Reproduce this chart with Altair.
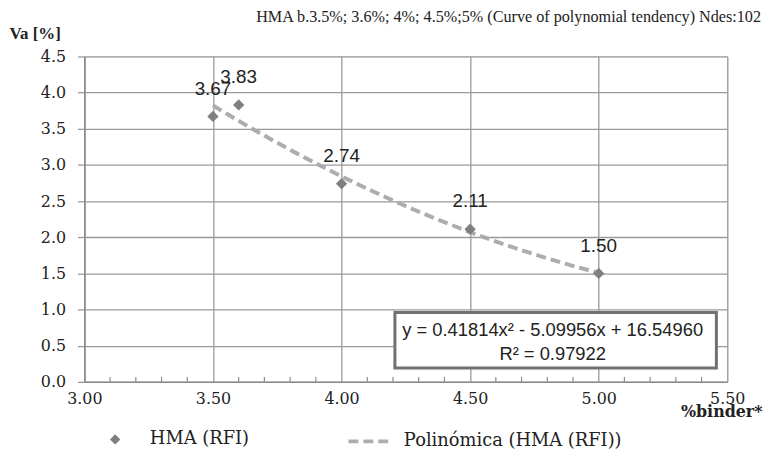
import altair as alt
import pandas as pd

binder = [3.5, 3.6, 4.0, 4.5, 5.0]
va = [3.67, 3.83, 2.74, 2.11, 1.50]
labels = ["3.67", "3.83", "2.74", "2.11", "1.50"]
x_ticks = [3.0, 3.5, 4.0, 4.5, 5.0, 5.5]
y_ticks = [0.0, 0.5, 1.0, 1.5, 2.0, 2.5, 3.0, 3.5, 4.0, 4.5]
minor_ticks = [3.1, 3.2, 3.3, 3.4, 3.6, 3.7, 3.8, 3.9, 4.1, 4.2, 4.3, 4.4,
               4.6, 4.7, 4.8, 4.9, 5.1, 5.2, 5.3, 5.4]
series_pts = "HMA (RFI)"
series_fit = "Polinómica (HMA (RFI))"
title_text = "HMA b.3.5%; 3.6%; 4%; 4.5%;5% (Curve of polynomial tendency) Ndes:102"
eq_line1 = "y = 0.41814x² - 5.09956x + 16.54960"
eq_line2 = "R² = 0.97922"

df = pd.DataFrame({"x": binder, "y": va, "label": labels,
                   "s1": series_pts, "s2": series_fit})
df_minor = pd.DataFrame({"x": minor_ticks})
one = pd.DataFrame({"a": [0]})

W, H = 648, 328
SERIF = "Liberation Serif"
DSERIF = "DejaVu Serif"
SANS = "Liberation Sans"

xs = alt.Scale(domain=[3.0, 5.5], nice=False, zero=False)
ys = alt.Scale(domain=[0, 4.5], nice=False, zero=False)

x_axis = alt.Axis(values=x_ticks, format=".2f", grid=True, gridColor="#9a9a9a",
                  gridWidth=1.3, ticks=False, domainColor="#8a8a8a", domainWidth=1.5,
                  labelFont=DSERIF, labelFontSize=16, labelColor="#222",
                  labelPadding=9, labelOverlap=False, labelFlush=False,
                  title="%binder*", titleFont=DSERIF,
                  titleFontSize=16, titleFontWeight="bold", titleColor="#222",
                  titleX=W + 35, titleY=30, titleAlign="right", titleLimit=0,
                  titleBaseline="middle", titleAnchor="end")
y_axis = alt.Axis(values=y_ticks, format=".1f", grid=True, gridColor="#9a9a9a",
                  gridWidth=1.3, tickSize=7, tickColor="#9a9a9a", tickWidth=1.3,
                  domainColor="#8a8a8a", domainWidth=1.5,
                  labelFont=DSERIF, labelFontSize=16, labelColor="#222",
                  labelPadding=12, labelOverlap=False, labelFlush=False,
                  title="Va [%]", titleFont=SERIF,
                  titleFontSize=17, titleFontWeight="bold", titleColor="#222",
                  titleAngle=0, titleX=-76, titleY=-23, titleAlign="left",
                  titleBaseline="middle", titleAnchor="start")

X = alt.X("x:Q", scale=xs, axis=x_axis)
Y = alt.Y("y:Q", scale=ys, axis=y_axis)

base = alt.Chart(df)

minor = alt.Chart(df_minor).mark_rule(color="#8a8a8a", strokeWidth=1.2).encode(
    x=X, y=alt.value(H), y2=alt.value(H - 5)
)

trend = base.transform_regression(
    "x", "y", method="poly", order=2, extent=[3.5, 5.0]
).transform_calculate(s2=f"'{series_fit}'").mark_line(
    strokeWidth=4, color="#a9a9a9", opacity=0.95
).encode(
    x=X, y=Y,
    strokeDash=alt.StrokeDash("s2:N", scale=alt.Scale(range=[[10, 5]]),
                              legend=alt.Legend(title=None, orient="none",
                                                legendX=264, legendY=H + 36,
                                                symbolType="stroke",
                                                symbolStrokeColor="#a9a9a9",
                                                symbolStrokeWidth=4,
                                                symbolSize=1900,
                                                labelFont=DSERIF, labelFontSize=18,
                                                labelColor="#222", labelOffset=10,
                                                labelLimit=0)),
)

points = base.mark_point(shape="diamond", filled=True, size=130, opacity=1).encode(
    x=X, y=Y,
    shape=alt.Shape("s1:N", scale=alt.Scale(range=["diamond"]),
                    legend=alt.Legend(title=None, orient="none", legendX=22,
                                      legendY=H + 49, symbolFillColor="#808080",
                                      symbolStrokeColor="#808080", symbolSize=110,
                                      labelFont=DSERIF, labelFontSize=18,
                                      labelColor="#222", labelOffset=26,
                                      labelLimit=0)),
    color=alt.value("#7f7f7f"),
)

text = base.mark_text(font=SANS, fontSize=19, color="#222", dy=-28).encode(
    x=X, y=Y, text="label:N"
)

box = alt.Chart(one).mark_rect(fill="white", stroke="#707070", strokeWidth=3).encode(
    x=alt.value(313), x2=alt.value(637), y=alt.value(258), y2=alt.value(314)
)
eq1 = alt.Chart(one).mark_text(font=SANS, fontSize=18.5, color="#222").encode(
    x=alt.value(472), y=alt.value(276), text=alt.value(eq_line1)
)
eq2 = alt.Chart(one).mark_text(font=SANS, fontSize=18.5, color="#222").encode(
    x=alt.value(472), y=alt.value(300), text=alt.value(eq_line2)
)
ttl = alt.Chart(one).mark_text(font=SERIF, fontSize=16.3, color="#222",
                               align="right").encode(
    x=alt.value(W + 34), y=alt.value(-40), text=alt.value(title_text)
)

chart = alt.layer(minor, trend, points, text, box, eq1, eq2, ttl).properties(
    width=W, height=H,
    autosize=alt.AutoSizeParams(type="none"),
    padding={"left": 77, "top": 47, "right": 36, "bottom": 84},
).configure_view(stroke="#8a8a8a", strokeWidth=1.5).configure(background="white")

chart.save("out.html", embed_options={"renderer": "svg", "actions": False})
